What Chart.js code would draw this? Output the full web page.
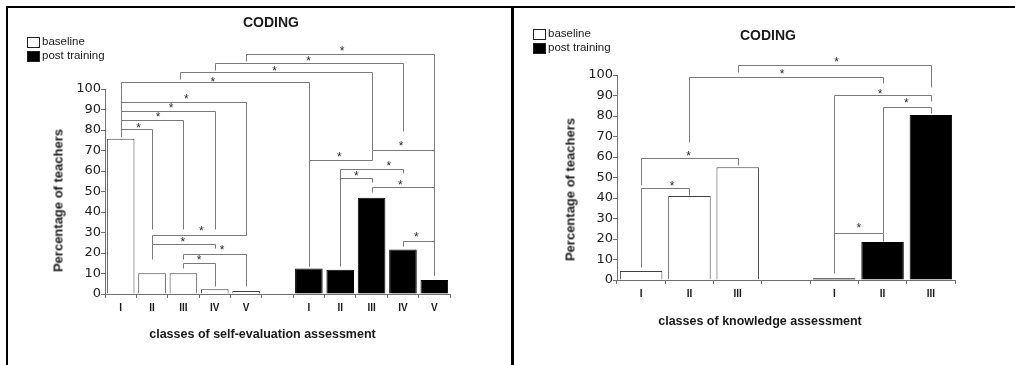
<!DOCTYPE html>
<html><head><meta charset="utf-8">
<script src="https://cdn.jsdelivr.net/npm/chart.js@4"></script>
<style>
html,body{margin:0;padding:0;background:#fff;}
body{width:1015px;height:365px;position:relative;overflow:hidden;font-family:"Liberation Sans",Arial,sans-serif;color:#1a1a1a;}
.abs{position:absolute;white-space:nowrap;}
canvas{position:absolute;top:0;}
.ttl{font-weight:bold;font-size:14px;line-height:14px;width:120px;text-align:center;}
.leg{font-size:11.5px;line-height:11.5px;}
.box{width:11px;height:9px;border:1px solid #222;}
.xt{font-weight:bold;font-size:12.5px;line-height:12.5px;width:300px;text-align:center;}
.yt{font-weight:bold;font-size:13px;line-height:13px;width:200px;text-align:center;transform:rotate(-90deg);}
.line{background:#000;}
</style>
</head><body>
<canvas id="c1" width="511" height="365" style="left:0;width:511px;height:365px"></canvas>
<canvas id="c2" width="501" height="365" style="left:514px;width:501px;height:365px"></canvas>

<div class="abs line" style="left:6px;top:6px;width:1009px;height:2px"></div>
<div class="abs line" style="left:6px;top:6px;width:2px;height:359px"></div>
<div class="abs line" style="left:511px;top:6px;width:3px;height:359px"></div>

<div class="abs ttl" style="left:211px;top:15px">CODING</div>
<div class="abs ttl" style="left:708px;top:28px">CODING</div>

<div class="abs box" style="left:27px;top:37px;background:#fff"></div>
<div class="abs leg" style="left:42px;top:36px">baseline</div>
<div class="abs box" style="left:27px;top:51px;background:#000"></div>
<div class="abs leg" style="left:42px;top:50px">post training</div>

<div class="abs box" style="left:533px;top:29px;background:#fff"></div>
<div class="abs leg" style="left:548px;top:28px">baseline</div>
<div class="abs box" style="left:533px;top:43px;background:#000"></div>
<div class="abs leg" style="left:548px;top:42px">post training</div>

<div class="abs xt" style="left:112.5px;top:327.7px">classes of self-evaluation assessment</div>
<div class="abs xt" style="left:610px;top:315px">classes of knowledge assessment</div>

<div class="abs yt" style="left:-42.5px;top:193.5px">Percentage of teachers</div>
<div class="abs yt" style="left:470px;top:183px">Percentage of teachers</div>

<script>
// ---- data ----
const leftCategories = ['I','II','III','IV','V','','I','II','III','IV','V'];
const leftBaseline   = [75.7, 10.1, 10.1, 2.3, 1.5, null, null, null, null, null, null];
const leftPost       = [null, null, null, null, null, null, 12.5, 11.8, 47.0, 21.7, 6.8];

const rightCategories = ['I','II','III','','I','II','III'];
const rightBaseline   = [4.4, 41.0, 55.0, null, null, null, null];
const rightPost       = [null, null, null, null, 0.8, 18.5, 80.5];

const yTickValues = [0,10,20,30,40,50,60,70,80,90,100];

// significance brackets: [fromCategory, toCategory, level, leftLegEnd, rightLegEnd] (data units)
const leftBrackets = [
  [0,1,80.3,76.9,31.7],
  [0,2,84.7,76.9,31.7],
  [0,3,89.1,76.9,31.7],
  [0,4,93.5,76.9,28.9],
  [0,6,103.3,76.9,13.5],
  [1.9,8,108.3,105.0,70.4],
  [3,9,112.7,109.4,79.3],
  [4,10,117.1,113.8,9.4],
  [8,10,70.4,65.5,70.4],
  [6,8,65.5,13.5,65.5],
  [7,9,61.1,13.5,59.0],
  [7,8,56.6,56.6,54.4],
  [8,10,52.2,50.0,52.2],
  [9,10,25.7,23.2,9.4],
  [1,4,28.9,17.1,28.9],
  [1,3,24.5,24.5,22.4],
  [2,4,19.5,17.1,3.7],
  [2,3,15.1,12.7,3.7]
];
// asterisks: [category position, value]
const leftStars = [
  [0.57,82.1],[1.19,87.5],[1.61,91.9],[2.09,96.7],[2.94,105.0],[4.91,110.2],
  [5.99,114.8],[7.06,120.0],[8.94,73.7],[6.97,68.0],[8.55,63.6],[7.51,59.0],
  [8.92,54.6],[9.43,29.3],[2.57,32.2],[1.98,26.8],[3.23,22.9],[2.50,18.0]
];
const rightBrackets = [
  [0,2,59.4,46.5,56.1],
  [0,1,44.7,6.5,41.5],
  [1,5,99.2,67.5,96.0],
  [2,6,104.9,101.5,94.3],
  [4,6,90.2,3.4,87.5],
  [5,6,84.2,22.8,81.5],
  [4,5,22.8,22.8,19.2]
];
const rightStars = [
  [0.98,61.8],[0.64,47.2],[2.92,102.0],[4.05,107.7],[4.95,92.3],[5.49,87.8],[4.51,26.8]
];

// ---- drawing ----
function sigPlugin(brackets, stars) {
  return {
    id: 'sig',
    afterDatasetsDraw(chart) {
      const ctx = chart.ctx, x = chart.scales.x, y = chart.scales.y;
      const px = v => Math.round(x.getPixelForValue(v)) + 0.5;
      const py = v => Math.round(y.getPixelForValue(v)) + 0.5;
      ctx.save();
      ctx.strokeStyle = '#7a7a7a';
      ctx.lineWidth = 1;
      ctx.beginPath();
      brackets.forEach(([a, b, h, la, lb]) => {
        const xa = px(a), xb = px(b), yh = py(h);
        ctx.moveTo(xa, py(la));
        ctx.lineTo(xa, yh);
        ctx.lineTo(xb, yh);
        ctx.lineTo(xb, py(lb));
      });
      ctx.stroke();
      ctx.fillStyle = '#2a2a2a';
      ctx.font = '12px "Liberation Sans", Arial, sans-serif';
      ctx.textAlign = 'center';
      ctx.textBaseline = 'alphabetic';
      stars.forEach(([sx, sy]) => {
        ctx.fillText('*', x.getPixelForValue(sx), y.getPixelForValue(sy) + 6.8);
      });
      ctx.restore();
    }
  };
}

function makeChart(id, labels, base, post, brackets, stars, area) {
  const axisColor = '#707070';
  return new Chart(document.getElementById(id), {
    type: 'bar',
    data: {
      labels: labels,
      datasets: [
        { label: 'baseline', data: base, backgroundColor: '#ffffff', borderColor: '#404040', borderWidth: 1,
          grouped: false, barPercentage: 0.88, categoryPercentage: 1 },
        { label: 'post training', data: post, backgroundColor: '#000000', borderColor: '#000000', borderWidth: 1,
          grouped: false, barPercentage: 0.88, categoryPercentage: 1 }
      ]
    },
    options: {
      responsive: false,
      animation: false,
      devicePixelRatio: 1,
      layout: { padding: { left: 0, top: area.top, right: area.right, bottom: 0 } },
      plugins: { legend: { display: false }, title: { display: false }, tooltip: { enabled: false } },
      scales: {
        x: {
          grid: { display: true, drawOnChartArea: false, offset: true, tickLength: 4, color: axisColor },
          border: { display: true, color: axisColor },
          ticks: { font: { family: '"Liberation Sans", Arial, sans-serif', size: 10, weight: 'bold' },
                   color: '#1a1a1a', padding: 4, maxRotation: 0, autoSkip: false },
          afterFit(s) { s.height = area.xh; }
        },
        y: {
          min: 0, max: 100,
          afterBuildTicks(s) { s.ticks = yTickValues.map(v => ({ value: v })); },
          ticks: { font: { family: '"DejaVu Sans", sans-serif', size: 13 }, color: '#222', padding: 0 },
          grid: { display: true, drawOnChartArea: false, tickLength: 4, color: axisColor },
          border: { display: true, color: axisColor },
          afterFit(s) { s.width = area.yw; }
        }
      }
    },
    plugins: [sigPlugin(brackets, stars)]
  });
}

makeChart('c1', leftCategories, leftBaseline, leftPost, leftBrackets, leftStars,
          { top: 89, right: 61, yw: 105, xh: 71 });
makeChart('c2', rightCategories, rightBaseline, rightPost, rightBrackets, rightStars,
          { top: 75, right: 60, yw: 103, xh: 85 });
</script>
</body></html>
